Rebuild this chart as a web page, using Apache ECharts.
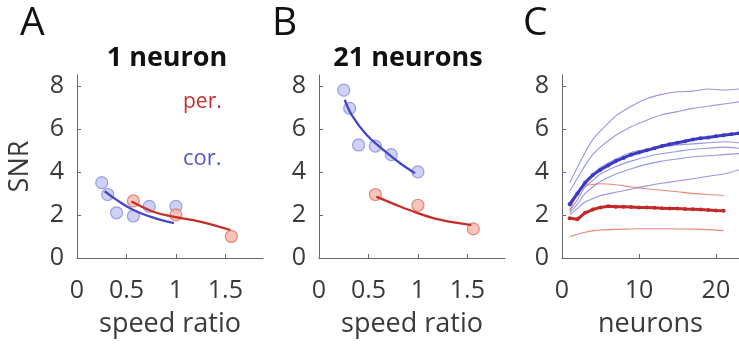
<!DOCTYPE html>
<html>
<head>
<meta charset="utf-8">
<script src="https://cdn.jsdelivr.net/npm/echarts@6/dist/echarts.min.js"></script>
<style>html,body{margin:0;padding:0;background:#fff;}#c{width:739px;height:347px;}</style>
</head>
<body>
<div id="c"></div>
<script>
// ---------- Panel A: 1 neuron ----------
var aCorX = [0.25, 0.31, 0.40, 0.57, 0.73, 1.0];
var aCorY = [3.5, 2.95, 2.1, 1.95, 2.4, 2.4];
var aPerX = [0.57, 1.0, 1.56];
var aPerY = [2.65, 2.0, 1.0];
var aCorFitX = [0.28, 0.40, 0.57, 0.74, 0.90, 0.98];
var aCorFitY = [3.1, 2.7, 2.23, 1.92, 1.7, 1.62];
var aPerFitX = [0.55, 0.77, 0.97, 1.24, 1.55];
var aPerFitY = [2.62, 2.15, 1.92, 1.69, 1.3];
// ---------- Panel B: 21 neurons ----------
var bCorX = [0.25, 0.31, 0.40, 0.57, 0.73, 1.0];
var bCorY = [7.8, 6.95, 5.25, 5.2, 4.8, 4.0];
var bPerX = [0.57, 1.0, 1.56];
var bPerY = [2.95, 2.45, 1.35];
var bCorFitX = [0.26, 0.33, 0.48, 0.65, 0.82, 0.97];
var bCorFitY = [7.35, 6.65, 5.72, 5.02, 4.4, 3.94];
var bPerFitX = [0.58, 0.82, 0.99, 1.22, 1.54];
var bPerFitY = [2.85, 2.39, 2.1, 1.78, 1.53];
// ---------- Panel C: SNR vs neurons ----------
var nBlue = [1, 2, 3, 4, 5, 7, 9, 11, 13, 15, 17, 19, 21, 23];
var corThin1 = [3.5, 4.2, 4.9, 5.5, 5.9, 6.6, 7.05, 7.4, 7.6, 7.72, 7.75, 7.85, 7.8, 7.85];
var corThin2 = [3.1, 3.7, 4.3, 4.8, 5.15, 5.7, 6.1, 6.4, 6.65, 6.8, 6.95, 7.05, 7.15, 7.25];
var corThin3 = [2.4, 2.9, 3.5, 3.9, 4.2, 4.6, 4.9, 5.05, 5.15, 5.25, 5.3, 5.35, 5.4, 5.35];
var corThin4 = [2.2, 2.7, 3.3, 3.6, 3.9, 4.25, 4.5, 4.7, 4.85, 4.95, 5.05, 5.1, 5.15, 5.1];
var corThin5 = [2.1, 2.5, 3.0, 3.3, 3.55, 3.9, 4.15, 4.35, 4.5, 4.6, 4.7, 4.75, 4.8, 4.85];
var corThin6 = [2.0, 2.3, 2.6, 2.75, 2.9, 3.05, 3.2, 3.35, 3.47, 3.58, 3.68, 3.8, 3.9, 4.1];
var nMeanBlue = [1, 2, 3, 4, 5, 6, 7, 8, 9, 10, 11, 12, 13, 14, 15, 16, 17, 18, 19, 20, 21, 22, 23];
var corMean = [2.5, 3.0, 3.5, 3.85, 4.1, 4.3, 4.5, 4.65, 4.8, 4.9, 5.0, 5.1, 5.2, 5.28, 5.35, 5.42, 5.5, 5.56, 5.6, 5.65, 5.7, 5.75, 5.8];
var nRed = [1, 2, 3, 4, 5, 7, 9, 11, 13, 15, 17, 19, 21];
var perThinHi = [2.2, 3.0, 3.35, 3.42, 3.45, 3.4, 3.3, 3.22, 3.15, 3.08, 3.0, 2.95, 2.9];
var perThinLo = [1.0, 1.1, 1.2, 1.26, 1.3, 1.33, 1.35, 1.36, 1.36, 1.35, 1.34, 1.32, 1.27];
var nMeanRed = [1, 2, 3, 4, 5, 6, 7, 8, 9, 10, 11, 12, 13, 14, 15, 16, 17, 18, 19, 20, 21];
var perMean = [1.85, 1.8, 2.1, 2.25, 2.35, 2.4, 2.38, 2.38, 2.37, 2.35, 2.34, 2.33, 2.31, 2.3, 2.3, 2.28, 2.27, 2.25, 2.23, 2.21, 2.2];
// ---------- ticks / labels ----------
var yTicks = [0, 2, 4, 6, 8];
var speedTicks = [0, 0.5, 1, 1.5];
var neuronTicks = [0, 10, 20];
var panelTitles = ['1 neuron', '21 neurons'];
var panelLetters = ['A', 'B', 'C'];

function zip(xs, ys) { return xs.map(function (x, i) { return [x, ys[i]]; }); }

var FONT = 'Open Sans';
var AXC = '#666';
var LBL = '#3a3a3a';

function mkX(idx, max, ticks, name) {
  return {
    type: 'value', gridIndex: idx, min: 0, max: max,
    name: name, nameLocation: 'middle', nameGap: 53,
    nameTextStyle: { fontFamily: FONT, fontSize: 27, color: LBL },
    axisLine: { show: true, lineStyle: { color: AXC, width: 1 } },
    axisTick: { show: true, inside: true, length: 4, customValues: ticks, lineStyle: { color: AXC } },
    axisLabel: { customValues: ticks, margin: 20, fontFamily: FONT, fontSize: 25, color: LBL },
    splitLine: { show: false }
  };
}
function mkY(idx, name) {
  return {
    type: 'value', gridIndex: idx, min: 0, max: 8.5,
    name: name || '', nameLocation: 'middle', nameGap: 43,
    nameTextStyle: { fontFamily: FONT, fontSize: 27, color: LBL },
    axisLine: { show: true, onZero: false, lineStyle: { color: AXC, width: 1 } },
    axisTick: { show: true, inside: true, length: 4, customValues: yTicks, lineStyle: { color: AXC } },
    axisLabel: { customValues: yTicks, margin: 13, fontFamily: FONT, fontSize: 25, color: LBL },
    splitLine: { show: false }
  };
}

var blueFill = '#c3c6f3', blueEdge = '#878cdf';
var redFill = '#f5b7ab', redEdge = '#d97363';
var blueLine = '#4646cc', redLine = '#c62e2c';

function scat(idx, data, fill, edge) {
  return { type: 'scatter', xAxisIndex: idx, yAxisIndex: idx, data: data, symbolSize: 12,
    itemStyle: { color: fill, borderColor: edge, borderWidth: 1.2 }, z: 2, silent: true };
}
function fit(idx, data, color) {
  return { type: 'line', xAxisIndex: idx, yAxisIndex: idx, data: data, smooth: 0.4, showSymbol: false,
    lineStyle: { color: color, width: 2.3 }, z: 3, silent: true };
}
function thin(data, color) {
  return { type: 'line', xAxisIndex: 2, yAxisIndex: 2, data: data, showSymbol: false, smooth: 0.2,
    lineStyle: { color: color, width: 1.1 }, z: 2, silent: true };
}
function thick(data, color) {
  return { type: 'line', xAxisIndex: 2, yAxisIndex: 2, data: data, symbol: 'circle', symbolSize: 4, showSymbol: true,
    itemStyle: { color: color }, lineStyle: { color: color, width: 3 }, z: 4, silent: true };
}

var thinBlue = 'rgba(95,95,215,0.65)', thinRed = 'rgba(225,95,80,0.75)';

var option = {
  animation: false,
  backgroundColor: '#fff',
  grid: [
    { left: 77, top: 75, width: 186, height: 183 },
    { left: 319, top: 75, width: 186, height: 183 },
    { left: 562, top: 75, width: 177, height: 183 }
  ],
  xAxis: [
    mkX(0, 1.88, speedTicks, 'speed ratio'),
    mkX(1, 1.88, speedTicks, 'speed ratio'),
    mkX(2, 23, neuronTicks, 'neurons')
  ],
  yAxis: [mkY(0, 'SNR'), mkY(1), mkY(2)],
  series: [
    scat(0, zip(aCorX, aCorY), blueFill, blueEdge),
    scat(0, zip(aPerX, aPerY), redFill, redEdge),
    fit(0, zip(aCorFitX, aCorFitY), blueLine),
    fit(0, zip(aPerFitX, aPerFitY), redLine),
    scat(1, zip(bCorX, bCorY), blueFill, blueEdge),
    scat(1, zip(bPerX, bPerY), redFill, redEdge),
    fit(1, zip(bCorFitX, bCorFitY), blueLine),
    fit(1, zip(bPerFitX, bPerFitY), redLine),
    thin(zip(nBlue, corThin1), thinBlue),
    thin(zip(nBlue, corThin2), thinBlue),
    thin(zip(nBlue, corThin3), thinBlue),
    thin(zip(nBlue, corThin4), thinBlue),
    thin(zip(nBlue, corThin5), thinBlue),
    thin(zip(nBlue, corThin6), thinBlue),
    thin(zip(nRed, perThinHi), thinRed),
    thin(zip(nRed, perThinLo), thinRed),
    thick(zip(nMeanBlue, corMean), '#3a3ac4'),
    thick(zip(nMeanRed, perMean), '#c02a28')
  ],
  graphic: [
    { type: 'text', left: 20, top: 4, style: { text: panelLetters[0], font: '39px "Open Sans"', fill: '#111' } },
    { type: 'text', left: 272, top: 4, style: { text: panelLetters[1], font: '39px "Open Sans"', fill: '#111' } },
    { type: 'text', left: 523, top: 4, style: { text: panelLetters[2], font: '39px "Open Sans"', fill: '#111' } },
    { type: 'text', x: 167, y: 58, style: { text: panelTitles[0], font: 'bold 27px "Open Sans"', fill: '#111', align: 'center', verticalAlign: 'middle' } },
    { type: 'text', x: 408, y: 58, style: { text: panelTitles[1], font: 'bold 27px "Open Sans"', fill: '#111', align: 'center', verticalAlign: 'middle' } },
    { type: 'text', x: 183, y: 102, style: { text: 'per.', font: '21px "Open Sans"', fill: '#c8302e', verticalAlign: 'middle' } },
    { type: 'text', x: 183, y: 159, style: { text: 'cor.', font: '22px "Open Sans"', fill: '#5454cc', verticalAlign: 'middle' } }
  ]
};

var chart = echarts.init(document.getElementById('c'), null, { renderer: 'canvas' });
chart.setOption(option);
</script>
</body>
</html>
